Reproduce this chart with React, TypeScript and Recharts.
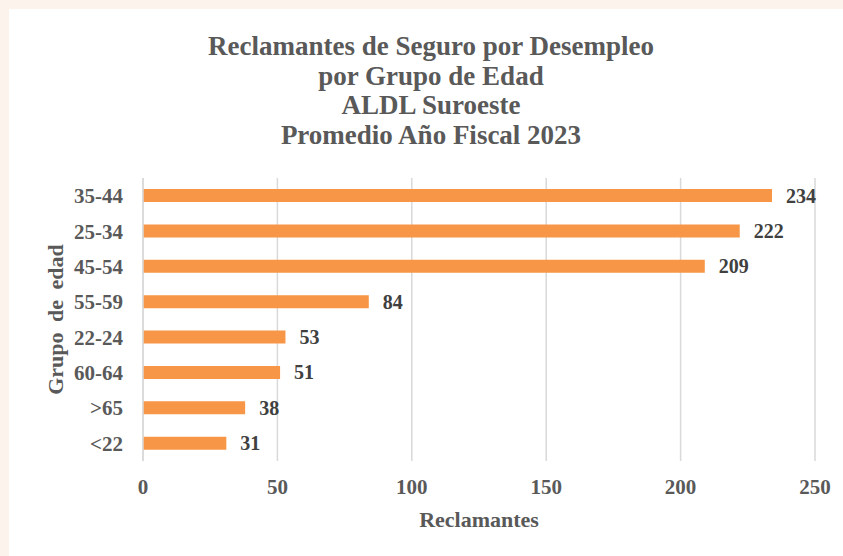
import React from "react";
import {
  BarChart,
  Bar,
  XAxis,
  YAxis,
  CartesianGrid,
  LabelList,
} from "recharts";

const ageGroups = ["35-44", "25-34", "45-54", "55-59", "22-24", "60-64", ">65", "<22"];
const claimants = [234, 222, 209, 84, 53, 51, 38, 31];
const xTicks = [0, 50, 100, 150, 200, 250];
const titleLines = [
  "Reclamantes de Seguro por Desempleo",
  "por Grupo de Edad",
  "ALDL Suroeste",
  "Promedio Año Fiscal 2023",
];

const FONT = '"Liberation Serif", "Times New Roman", serif';
const GREY = "#595959";

const chartData = ageGroups.map((g, i) => ({ group: g, value: claimants[i] }));

// rotated y-axis title, drawn from the axis viewBox
const YTitle = (props: any) => {
  const vb = props.viewBox || {};
  const cx = vb.x + 55;
  const cy = vb.y + vb.height / 2;
  return (
    <text
      x={cx}
      y={cy}
      transform={`rotate(-90, ${cx}, ${cy})`}
      textAnchor="middle"
      dominantBaseline="central"
      fill={GREY}
      fontFamily={FONT}
      fontWeight="bold"
      fontSize={22}
      wordSpacing={5}
    >
      Grupo de edad
    </text>
  );
};

export default function App() {
  return (
    <div
      style={{
        position: "absolute",
        left: 0,
        top: 0,
        width: 843,
        height: 556,
        overflow: "hidden",
        background: "#fbf3ec",
      }}
    >
      <div
        style={{
          position: "absolute",
          left: 9,
          top: 9,
          width: 834,
          height: 547,
          background: "#ffffff",
        }}
      />
      <div
        style={{
          position: "absolute",
          left: 20,
          top: 32,
          width: 822,
          textAlign: "center",
          fontFamily: FONT,
          fontWeight: "bold",
          fontSize: 27,
          lineHeight: "29.5px",
          color: GREY,
        }}
      >
        {titleLines.map((t) => (
          <div key={t}>{t}</div>
        ))}
      </div>
      <div style={{ position: "absolute", left: 0, top: 0 }}>
        <BarChart
          width={843}
          height={556}
          data={chartData}
          layout="vertical"
          margin={{ top: 178, right: 28, bottom: 0, left: 0 }}
          barCategoryGap={0}
        >
          <CartesianGrid horizontal={false} stroke="#d9d9d9" strokeWidth={1.5} />
          <XAxis
            type="number"
            domain={[0, 250]}
            ticks={xTicks}
            height={95}
            axisLine={false}
            tickLine={false}
            tickSize={0}
            tickMargin={18}
            tick={{ fill: GREY, fontFamily: FONT, fontWeight: "bold", fontSize: 21 }}
            label={{
              value: "Reclamantes",
              position: "insideBottom",
              offset: 29,
              fill: GREY,
              fontFamily: FONT,
              fontWeight: "bold",
              fontSize: 22,
            }}
          />
          <YAxis
            type="category"
            dataKey="group"
            width={143}
            axisLine={{ stroke: "#d9d9d9", strokeWidth: 1.5 }}
            tickLine={false}
            tickSize={0}
            tickMargin={20}
            interval={0}
            tick={{ fill: GREY, fontFamily: FONT, fontWeight: "bold", fontSize: 21 }}
            label={{ content: YTitle }}
          />
          <Bar dataKey="value" fill="#f79646" barSize={13} isAnimationActive={false}>
            <LabelList
              dataKey="value"
              position="right"
              offset={14}
              fill="#404040"
              fontFamily={FONT}
              fontWeight="bold"
              fontSize={20}
            />
          </Bar>
        </BarChart>
      </div>
    </div>
  );
}
